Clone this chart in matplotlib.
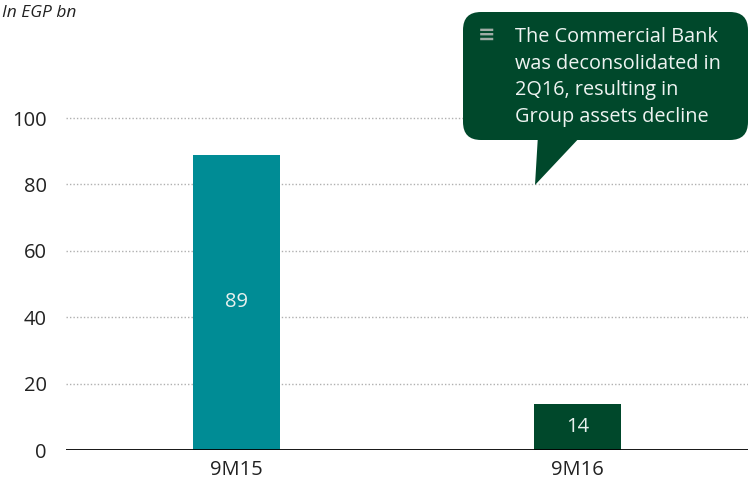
import matplotlib
matplotlib.use("Agg")
import matplotlib.pyplot as plt
from matplotlib.patches import FancyBboxPatch, Polygon
from matplotlib.transforms import Affine2D

categories = ["9M15", "9M16"]
values = [89, 14]
colors = ["#008c95", "#00482b"]
yticks = [0, 20, 40, 60, 80, 100]
note = "The Commercial Bank\nwas deconsolidated in\n2Q16, resulting in\nGroup assets decline"

plt.rcParams['font.family'] = ['Open Sans', 'DejaVu Sans']

W, H = 748, 484
fig = plt.figure(figsize=(W / 100, H / 100), dpi=100)
# pixel coordinates (origin top-left)
px = Affine2D().scale(1 / W, -1 / H).translate(0, 1) + fig.transFigure

ax = fig.add_axes([66 / W, (H - 450) / H, (W - 66) / W, 450 / H])
ax.set_xlim(-0.5, 1.5)
ax.set_ylim(0, 450 / 3.32)

for y in yticks[1:]:
    ax.axhline(y, color="#b0b0b0", lw=1, ls=(0, (1, 1.5)), zorder=0)
ax.axhline(0, color="black", lw=2, zorder=3)

bars = ax.bar(range(len(values)), values, width=0.255, color=colors, zorder=2)
for i, v in enumerate(values):
    ax.text(i, v / 2, str(v), ha="center", va="center", color="#e8f0ee", fontsize=14.5)

ax.set_xticks(range(len(categories)))
ax.set_xticklabels(categories, fontsize=14.5, color="#222222")
ax.set_yticks(yticks)
ax.set_yticklabels([str(t) for t in yticks], fontsize=14.5, color="#222222")
ax.tick_params(length=0, pad=14, axis="y")
ax.tick_params(length=0, pad=7, axis="x")
for s in ax.spines.values():
    s.set_visible(False)

fig.text(2 / W, 1 - 13 / H, "In EGP bn", fontsize=12.5, style="italic", va="center", color="#222222")

# callout
green = "#00482b"
box = FancyBboxPatch((463, 12), 285, 128, boxstyle="round,pad=0,rounding_size=18",
                     transform=px, facecolor=green, edgecolor="none", clip_on=False)
fig.patches.append(box)
tail = Polygon([(538, 135), (582, 135), (535, 185)], closed=True, transform=px,
               facecolor=green, edgecolor="none", clip_on=False)
fig.patches.append(tail)
fig.text(487 / W, 1 - 35 / H, "\u2261", fontsize=15, color="#a0aca6", ha="center", va="center",
         fontweight="bold")
fig.text(515 / W, 1 - 27 / H, note, fontsize=14.3, color="#eef3f1", ha="left", va="top",
         linespacing=1.45)

fig.savefig("out.png", dpi=100)
